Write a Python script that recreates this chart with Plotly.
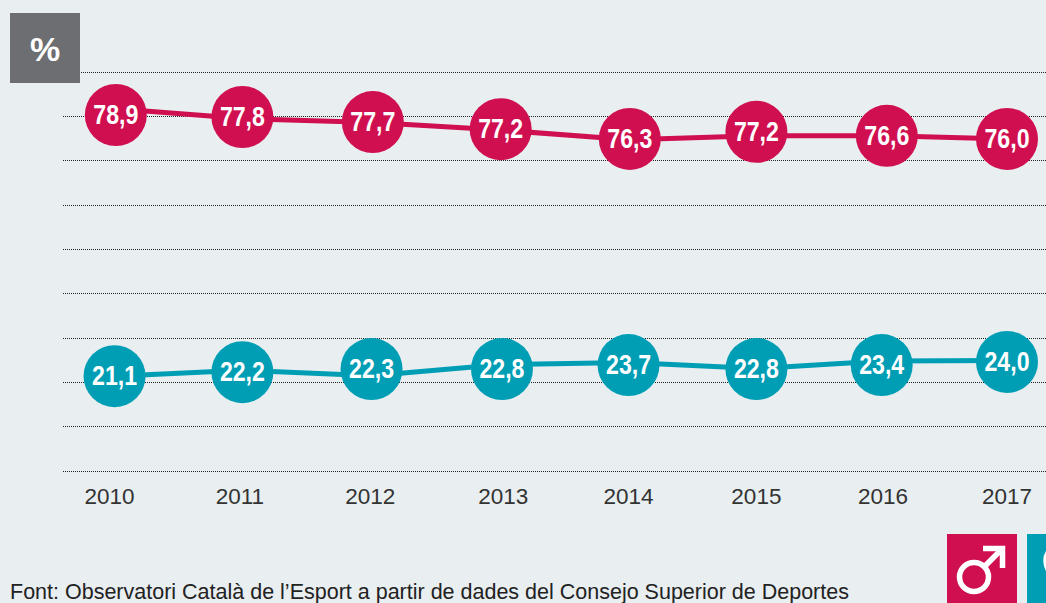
import plotly.graph_objects as go

years = ["2010", "2011", "2012", "2013", "2014", "2015", "2016", "2017"]
year_tick_pos = [2009.98, 2011.0, 2012.02, 2013.06, 2014.04, 2015.04, 2016.03, 2017.0]

men_labels = ["78,9", "77,8", "77,7", "77,2", "76,3", "77,2", "76,6", "76,0"]
men_x = [2010.03, 2011.02, 2012.04, 2013.04, 2014.05, 2015.04, 2016.06, 2017.0]
men_drawn = [80.3, 79.85, 78.7, 77.1, 74.9, 76.5, 75.6, 74.9]
men_line = [81.7, 79.5, 78.6, 76.9, 74.7, 75.6, 75.6, 74.9]

women_labels = ["21,1", "22,2", "22,3", "22,8", "23,7", "22,8", "23,4", "24,0"]
women_x = [2010.02, 2011.02, 2012.03, 2013.05, 2014.04, 2015.04, 2016.02, 2017.0]
women_drawn = [21.4, 22.3, 23.0, 23.0, 23.9, 23.0, 23.9, 24.6]
women_line = [21.4, 22.7, 21.5, 24.0, 24.5, 23.1, 24.8, 24.9]

grid_vals = [0, 10, 20, 30, 40, 50, 60, 70, 80, 90]
source = "Font: Observatori Català de l’Esport a partir de dades del Consejo Superior de Deportes"

RED, TEAL, BG, GREY = "#D00F50", "#009EB5", "#E9EEF1", "#6D6E71"
W, H, L, BOTTOM = 1046, 603, 63, 480


def xp(px):
    return (px - L) / (W - L)


def yp(py):
    return (BOTTOM - py) / BOTTOM


def line(x, y, color, name):
    return go.Scatter(x=x, y=y, name=name, mode="lines", line=dict(color=color, width=5),
                      cliponaxis=False, hoverinfo="skip")


def series(x, y, labels, color, name):
    return go.Scatter(
        x=x, y=y, name=name, mode="markers+text", text=labels,
        textposition="middle center",
        textfont=dict(family="Liberation Sans", size=28, color="white", weight="bold"),
        marker=dict(color=color, size=62, line=dict(width=0)),
        cliponaxis=False, hoverinfo="skip",
    )


fig = go.Figure([
    line(men_x, men_line, RED, "Homes"),
    line(women_x, women_line, TEAL, "Dones"),
    series(men_x, men_drawn, men_labels, RED, "Homes"),
    series(women_x, women_drawn, women_labels, TEAL, "Dones"),
])


def box(x0, y0, x1, y1, color):
    return dict(type="rect", xref="paper", yref="paper", x0=xp(x0), x1=xp(x1), y0=yp(y0), y1=yp(y1),
                fillcolor=color, line=dict(width=0), layer="above")


def ring(cx, cy, r, color="white", w=5.5):
    return dict(type="circle", xref="paper", yref="paper", x0=xp(cx - r), x1=xp(cx + r), y0=yp(cy - r), y1=yp(cy + r),
                line=dict(color=color, width=w), fillcolor="rgba(0,0,0,0)", layer="above")


def path(points):
    d = "M " + " L ".join(f"{xp(a):.5f},{yp(b):.5f}" for a, b in points)
    return dict(type="path", xref="paper", yref="paper", path=d, line=dict(color="white", width=5.5), layer="above")


shapes = [
    box(10, 13, 80, 83, GREY),
    box(947, 534, 1017, 603, RED),
    box(1027, 534, 1046, 603, TEAL),
    ring(974, 577, 14.5),
    path([(984, 567), (1002, 549)]),
    path([(983, 548.5), (1002.5, 548.5), (1002.5, 568)]),
    ring(1063, 561, 17),
]

fig.update_layout(
    width=W, height=H, autosize=False,
    margin=dict(l=L, r=0, t=0, b=H - BOTTOM, pad=0),
    paper_bgcolor=BG, plot_bgcolor=BG, showlegend=False,
    shapes=shapes,
    annotations=[
        dict(text="%", xref="paper", yref="paper", x=xp(45), y=yp(49), showarrow=False, xanchor="center", yanchor="middle",
             font=dict(family="Liberation Sans", size=34, color="white", weight="bold")),
        dict(text=source, xref="paper", yref="paper", x=xp(8), y=yp(592), showarrow=False, xanchor="left", yanchor="middle",
             font=dict(family="Liberation Sans", size=21.5, color="#222222")),
    ],
    xaxis=dict(
        range=[2009.617, 2017.305], tickmode="array", tickvals=year_tick_pos, ticktext=years,
        showgrid=False, zeroline=False, showline=False, ticks="", ticklabelstandoff=0,
        tickfont=dict(family="Liberation Sans", size=22.5, color="#333333"),
    ),
    yaxis=dict(
        range=[-2.03, 106.24], tickmode="array", tickvals=grid_vals, showticklabels=False, ticks="",
        showgrid=True, gridcolor="#222222", gridwidth=1.3, griddash="1px,1px", zeroline=False, showline=False,
    ),
)

post = """
document.documentElement.style.margin = '0';
document.body.style.margin = '0';
document.body.style.overflow = 'hidden';
document.querySelectorAll('.textpoint text').forEach(function (t) {
    t.setAttribute('textLength', '45');
    t.setAttribute('lengthAdjust', 'spacingAndGlyphs');
    t.setAttribute('y', parseFloat(t.getAttribute('y')) + 2);
});
"""
fig.write_html("out.html", config=dict(displayModeBar=False), post_script=post)
